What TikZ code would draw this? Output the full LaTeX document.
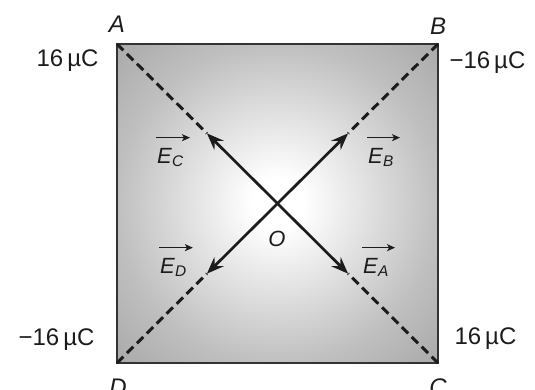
\documentclass[tikz,border=0pt]{standalone}
\usepackage{fontspec}
\setmainfont{Liberation Sans}
\usepackage{tikz}
\usetikzlibrary{calc,arrows.meta}
\definecolor{ink}{HTML}{1C1C1C}
\definecolor{frame}{HTML}{333333}
\pgfdeclareradialshading{plate}{\pgfpoint{0bp}{0bp}}{%
  color(0bp)=(white); color(4bp)=(white); color(25bp)=(black!25);
  color(36bp)=(black!34); color(50bp)=(black!34)}

\begin{document}
\begin{tikzpicture}[x=1pt,y=-1pt,font=\fontsize{24}{28}\selectfont,
    diag/.style={ink,line width=3pt,dash pattern=on 9pt off 5pt},
    field/.style={ink,line width=2.7pt,-{Stealth[length=17pt,width=13pt,inset=6pt]}},
    vlabel/.style={text=ink,inner sep=0pt,anchor=base west,font=\fontsize{22}{26}\selectfont},
    vecbar/.style={ink,line width=1.4pt,-{Stealth[length=8pt,width=7pt,inset=2pt]}}]
    \useasboundingbox (0,0) rectangle (535,389);
    \coordinate (A) at (117,44); \coordinate (B) at (438,44);
    \coordinate (C) at (438,363); \coordinate (D) at (117,363);
    \coordinate (O) at ($(A)!.5!(C)$);
    \shade[shading=plate] (A) rectangle (C);
    \draw[frame,line width=1.8pt] (A) rectangle (C);
    % field vectors at O
    \coordinate (tipA) at ($(O)!.44!(C)$); \coordinate (tipB) at ($(O)!.44!(B)$);
    \coordinate (tipC) at ($(O)!.44!(A)$); \coordinate (tipD) at ($(O)!.44!(D)$);
    \draw[diag] (A) -- (tipC); \draw[diag] (B) -- (tipB);
    \draw[diag] (C) -- (tipA); \draw[diag] (D) -- (tipD);
    \draw[field] (O) -- (tipA); \draw[field] (O) -- (tipB);
    \draw[field] (O) -- (tipC); \draw[field] (O) -- (tipD);
    \node[vlabel] (lblEC) at (157,163) {\textit{E}\textsubscript{\textit{C}}};
    \node[vlabel] (lblEB) at (368,163) {\textit{E}\textsubscript{\textit{B}}};
    \node[vlabel] (lblED) at (160,273) {\textit{E}\textsubscript{\textit{D}}};
    \node[vlabel] (lblEA) at (363,273) {\textit{E}\textsubscript{\textit{A}}};
    \foreach \v in {EC,EB,ED,EA}
      \draw[vecbar] ([xshift=-1pt,yshift=10pt]lbl\v.north west) -- ([xshift=6pt,yshift=10pt]lbl\v.north east);
    \node[text=ink,font=\fontsize{22}{26}\selectfont] (lblO) at (277,239) {\textit{O}};
    % corners and charges
    \node[text=ink] (lblA) at (117,24) {\textit{A}};
    \node[text=ink] (lblB) at (438,26) {\textit{B}};
    \node[text=ink] (lblC) at (438,387) {\textit{C}};
    \node[text=ink] (lblD) at (118,387) {\textit{D}};
    \node[text=ink,anchor=east] (qA) at (102,61) {16\,µC};
    \node[text=ink,anchor=west] (qB) at (446,63) {−16\,µC};
    \node[text=ink,anchor=west] (qC) at (451,339) {16\,µC};
    \node[text=ink,anchor=east] (qD) at (98,340) {−16\,µC};
  \end{tikzpicture}
\end{document}
